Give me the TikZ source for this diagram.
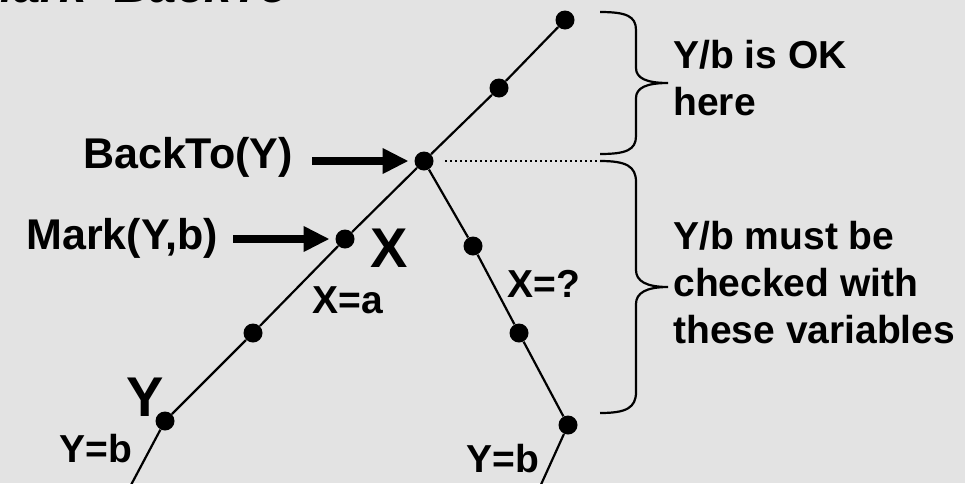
\documentclass[tikz,border=0pt]{standalone}
\usepackage{fontspec}
\setmainfont{Liberation Sans}
\usetikzlibrary{arrows.meta}
\definecolor{slide}{RGB}{227,227,227}

\tikzstyle{vardot} = [circle, fill=black, inner sep=0pt, minimum size=9.5pt]
\tikzstyle{branch} = [line width=1.1pt]
\tikzstyle{curly} = [line width=1.1pt]
\tikzstyle{bigarrow} = [line width=4pt, -{Triangle[length=13pt,width=12pt]}]
\tikzstyle{lbl} = [inner sep=0pt, font=\bfseries\fontsize{19.5pt}{23.5pt}\selectfont]
\tikzstyle{cmd} = [inner sep=0pt, font=\bfseries\fontsize{21.5pt}{26pt}\selectfont]
\tikzstyle{bigvar} = [inner sep=0pt, font=\bfseries\fontsize{28pt}{34pt}\selectfont]

\begin{document}
\begin{tikzpicture}[x=0.5pt,y=-0.5pt]
\useasboundingbox (0,0) rectangle (978,483);
\fill[slide] (0,0) rectangle (965,483);

% title, cut off by the top edge
\node[anchor=base east, inner sep=0pt, font=\bfseries\itshape\fontsize{24.5pt}{29pt}\selectfont] (title) at (290,2) {Mark\raisebox{0.17em}{\_}BackTo};

% left branch
\coordinate (lend) at (123,500);
\node[vardot] (y) at (165,421) {};
\node[vardot] (d1) at (253,333) {};
\node[vardot] (x) at (345,239) {};
\node[vardot] (bt) at (424,161) {};
\node[vardot] (d2) at (499,88) {};
\node[vardot] (top) at (565,20) {};

% right branch
\node[vardot] (r1) at (473,246) {};
\node[vardot] (r2) at (519,333) {};
\node[vardot] (r3) at (568,425) {};
\coordinate (rend) at (534,500);
\coordinate (split) at (600,161);

\draw[branch] (lend) -- (y) -- (d1) -- (x) -- (bt) -- (d2) -- (top);
\draw[branch] (bt) -- (r1) -- (r2) -- (r3) -- (rend);
\draw[line width=0.75pt, dash pattern=on 0.75pt off 1.75pt, shorten <=5.75pt] (bt) -- (split);

% variable names and values
\node[bigvar, anchor=base] (ylbl) at (145,416) {Y};
\node[bigvar, anchor=base] (xlbl) at (389.5,267) {X};
\node[lbl, anchor=base] (xa) at (347.5,313) {X=a};
\node[lbl, anchor=base] (yb) at (96,462) {Y=b};
\node[lbl, anchor=base] (xq) at (544,297) {X=?};
\node[lbl, anchor=base] (yb2) at (503,472) {Y=b};

% commands
\node[cmd, anchor=base east] (backto) at (293,168) {BackTo(Y)};
\node[cmd, anchor=base east] (mark) at (218,249) {Mark(Y,b)};
\draw[bigarrow, shorten <=9.5pt, shorten >=2.75pt] (backto.east |- bt) -- (bt.west);
\draw[bigarrow, shorten <=7.5pt, shorten >=2.75pt] (mark.east |- x) -- (x.west);

% braces
\draw[curly] (600,12) .. controls (626,12) and (636,16) .. (636,30) -- (636,68)
  .. controls (636,78) and (646,83) .. (668,83)
  .. controls (646,83) and (636,88) .. (636,98) -- (636,136)
  .. controls (636,150) and (626,154) .. (600,154);
\draw[curly] (split) .. controls (626,161) and (636,166) .. (636,182) -- (636,270)
  .. controls (636,281) and (646,287) .. (668,287)
  .. controls (646,287) and (636,293) .. (636,304) -- (636,392)
  .. controls (636,408) and (626,413) .. (600,413);

% last line baselines
\node[lbl, anchor=base west, align=left] (ok) at (673,115) {Y/b is OK\\here};
\node[lbl, anchor=base west, align=left] (check) at (673,343) {Y/b must be\\checked with\\these variables};
\end{tikzpicture}
\end{document}
